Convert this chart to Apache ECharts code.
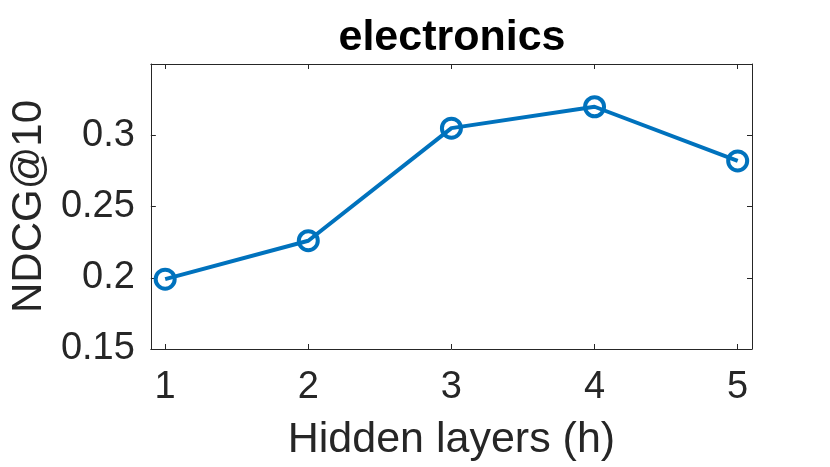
<!DOCTYPE html>
<html>
<head>
<meta charset="utf-8">
<script src="https://cdn.jsdelivr.net/npm/echarts@6/dist/echarts.min.js"></script>
<style>
  html, body { margin: 0; padding: 0; background: #fff; }
  #chart { width: 830px; height: 467px; }
</style>
</head>
<body>
<div id="chart"></div>
<script>
const titleText = 'electronics';
const xAxisName = 'Hidden layers (h)';
const yAxisName = 'NDCG@10';
const hiddenLayers = [1, 2, 3, 4, 5];
const ndcg = [0.199, 0.226, 0.305, 0.320, 0.282];
const xTicks = [1, 2, 3, 4, 5];
const yTicks = [0.15, 0.2, 0.25, 0.3];

const FONT = '"Liberation Sans", Arial, Helvetica, sans-serif';
const AX = '#262626';
const BLUE = '#0072BD';

const chart = echarts.init(document.getElementById('chart'), null, { renderer: 'canvas' });

const baseX = {
  type: 'value', min: 0.9, max: 5.1,
  splitLine: { show: false },
  axisLine: { show: true, onZero: false, lineStyle: { color: AX, width: 1 } },
  axisTick: { show: true, inside: true, length: 5, customValues: xTicks, lineStyle: { color: AX } }
};
const baseY = {
  type: 'value', min: 0.15, max: 0.35,
  splitLine: { show: false },
  axisLine: { show: true, onZero: false, lineStyle: { color: AX, width: 1 } },
  axisTick: { show: true, inside: true, length: 5, customValues: yTicks, lineStyle: { color: AX } }
};

chart.setOption({
  animation: false,
  backgroundColor: '#fff',
  title: {
    text: titleText, left: 447, top: 12, textAlign: 'center',
    textStyle: { fontFamily: FONT, fontSize: 43, fontWeight: 'bold', color: '#000' }
  },
  grid: { left: 148, right: 78, top: 64, bottom: 114, containLabel: false },
  xAxis: [
    Object.assign({}, baseX, {
      position: 'bottom',
      name: xAxisName, nameLocation: 'middle', nameGap: 70,
      nameTextStyle: { fontFamily: FONT, fontSize: 43, color: AX },
      axisLabel: { show: true, customValues: xTicks, margin: 20, fontFamily: FONT, fontSize: 38, color: AX }
    }),
    Object.assign({}, baseX, { position: 'top', axisLabel: { show: false } })
  ],
  yAxis: [
    Object.assign({}, baseY, {
      position: 'left',
      name: yAxisName, nameLocation: 'middle', nameGap: 100,
      nameTextStyle: { fontFamily: FONT, fontSize: 42, color: AX },
      axisLabel: { show: true, customValues: yTicks, margin: 16, fontFamily: FONT, fontSize: 38, color: AX }
    }),
    Object.assign({}, baseY, { position: 'right', axisLabel: { show: false } })
  ],
  series: [{
    type: 'line',
    data: hiddenLayers.map((x, i) => [x, ndcg[i]]),
    xAxisIndex: 0, yAxisIndex: 0,
    symbol: 'circle', symbolSize: 19,
    lineStyle: { color: BLUE, width: 4 },
    itemStyle: { color: 'rgba(0,0,0,0)', borderColor: BLUE, borderWidth: 4 },
    emphasis: { disabled: true }
  }]
});
</script>
</body>
</html>
